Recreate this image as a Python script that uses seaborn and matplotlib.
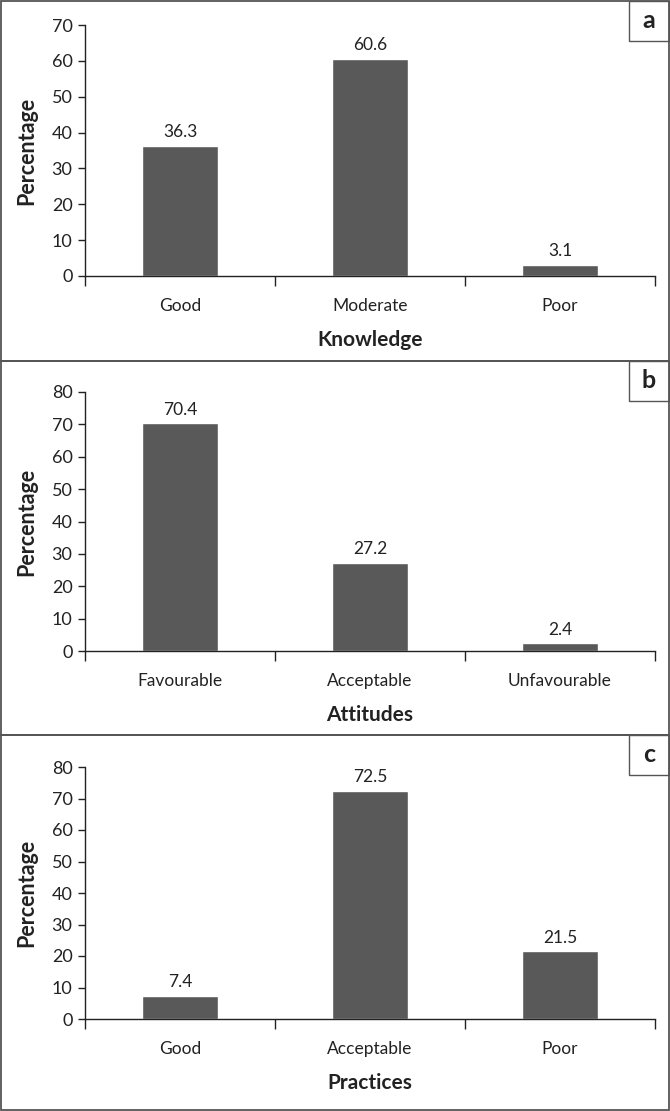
import matplotlib
matplotlib.use('Agg')
import matplotlib.pyplot as plt
import seaborn as sns
from matplotlib.patches import Rectangle

sns.set_style('white')
plt.rcParams['font.family'] = ['Lato', 'DejaVu Sans']

# data
knowledge_cats = ['Good', 'Moderate', 'Poor']
knowledge_vals = [36.3, 60.6, 3.1]
attitude_cats = ['Favourable', 'Acceptable', 'Unfavourable']
attitude_vals = [70.4, 27.2, 2.4]
practice_cats = ['Good', 'Acceptable', 'Poor']
practice_vals = [7.4, 72.5, 21.5]
panel_letters = ['a', 'b', 'c']
x_titles = ['Knowledge', 'Attitudes', 'Practices']
y_max = [70, 80, 80]

W, H = 670, 1111
fig = plt.figure(figsize=(W / 100, H / 100), dpi=100)

# pixel layout: panel box (top, bottom), axes (top, bottom)
boxes = [(1, 361), (361, 735), (735, 1110)]
axes_px = [(25, 276), (392, 651), (767, 1019)]
ax_left, ax_right = 85, 655

panels = [(knowledge_cats, knowledge_vals), (attitude_cats, attitude_vals), (practice_cats, practice_vals)]
for i, (cats, vals) in enumerate(panels):
    top, bot = axes_px[i]
    ax = fig.add_axes([ax_left / W, 1 - bot / H, (ax_right - ax_left) / W, (bot - top) / H])
    sns.barplot(x=cats, y=vals, color='#595959', width=0.4, saturation=1, ax=ax)
    ax.bar_label(ax.containers[0], fmt='%.1f', padding=4, fontsize=12.5, color='#222222')
    ax.set_xlim(-0.5, 2.5)
    ax.set_ylim(0, y_max[i])
    ax.set_yticks(range(0, y_max[i] + 1, 10))
    ax.set_xticks([-0.5, 0.5, 1.5, 2.5])
    ax.set_xticklabels([])
    ax.set_xticks([0, 1, 2], minor=True)
    ax.set_xticklabels(cats, minor=True)
    ax.tick_params(axis='x', which='major', length=7, width=1, direction='out', color='#222222')
    ax.tick_params(axis='x', which='minor', length=0, pad=15.5, labelsize=12.5, labelcolor='#222222')
    ax.tick_params(axis='y', length=5, width=1, direction='out', color='#222222', labelsize=13,
                   labelcolor='#222222', pad=4)
    ax.tick_params(left=True, bottom=True)
    for s in ['top', 'right']:
        ax.spines[s].set_visible(False)
    for s in ['left', 'bottom']:
        ax.spines[s].set_color('#222222')
        ax.spines[s].set_linewidth(1)
    ax.set_xlabel(x_titles[i], fontsize=15, fontweight='bold', labelpad=12, color='#222222')
    ax.set_ylabel('Percentage', fontsize=15.5, fontweight='bold', color='#222222')
    ax.yaxis.set_label_coords((37 - ax_left) / (ax_right - ax_left), 0.5)

    # panel border and letter box
    btop, bbot = boxes[i]
    fig.patches.append(Rectangle((1 / W, 1 - bbot / H), (W - 2) / W, (bbot - btop) / H,
                                 fill=False, edgecolor='#555555', lw=1.3, transform=fig.transFigure))
    fig.patches.append(Rectangle((629 / W, 1 - (btop + 40) / H), 40 / W, 40 / H,
                                 fill=False, edgecolor='#555555', lw=1.0, transform=fig.transFigure))
    fig.text(649 / W, 1 - (btop + 20) / H, panel_letters[i], ha='center', va='center',
             fontsize=18, fontweight='bold', color='#222222')

fig.savefig('out.png', dpi=100)
